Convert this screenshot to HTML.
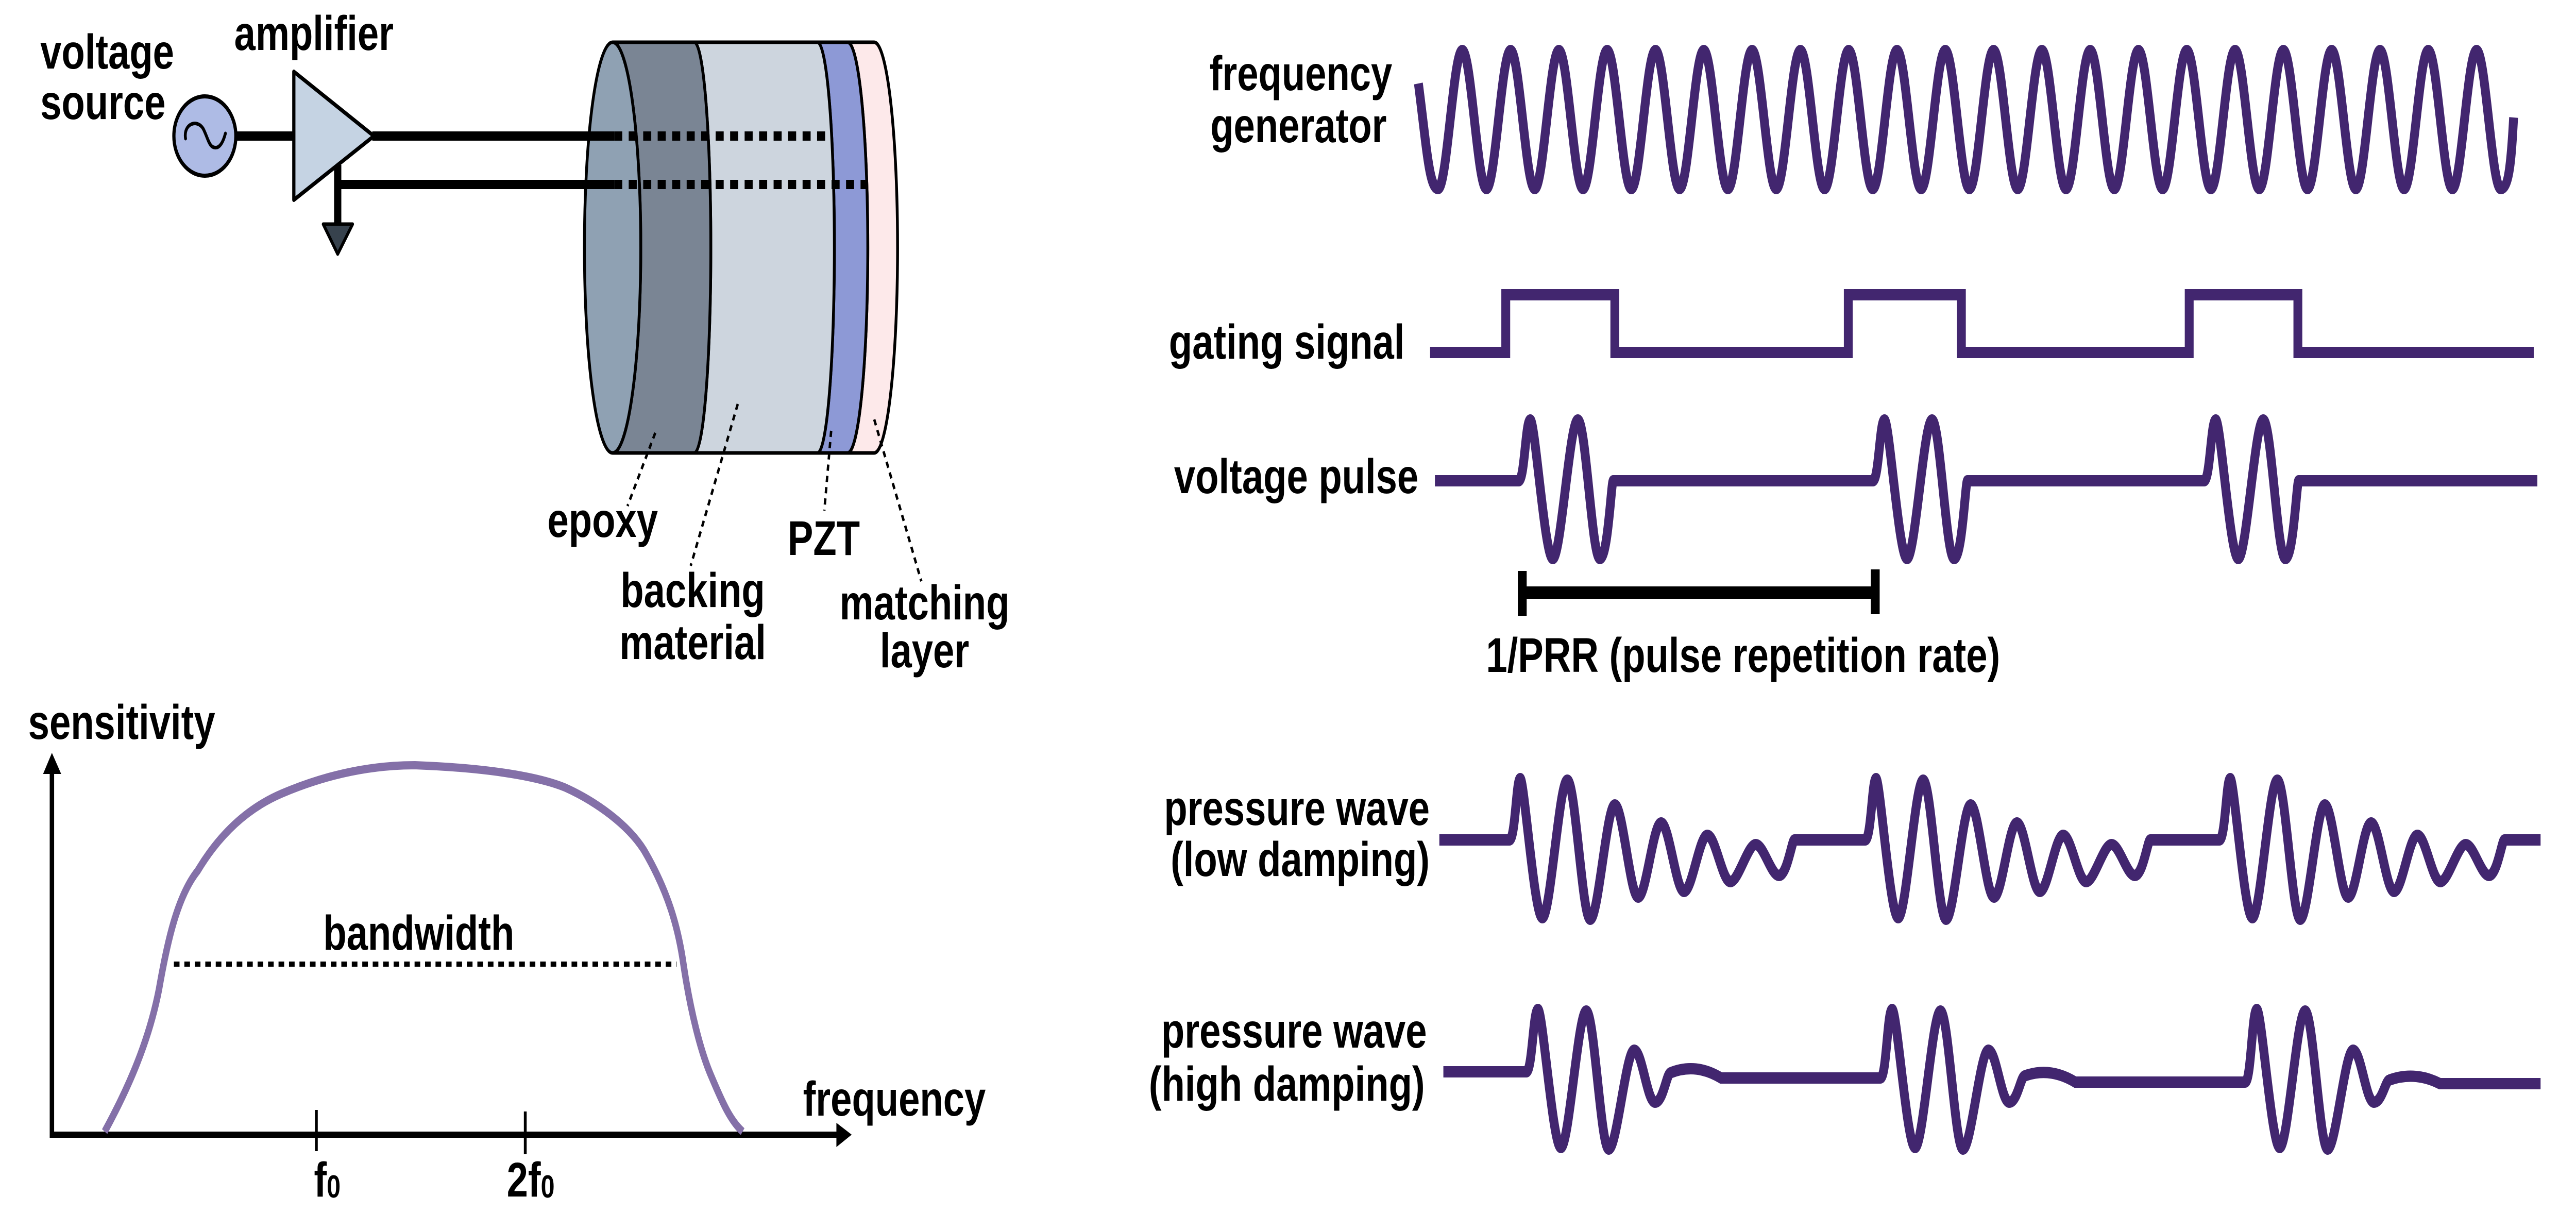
<!DOCTYPE html>
<html><head><meta charset="utf-8"><style>
html,body{margin:0;padding:0;background:#fff;overflow:hidden;width:100vw;height:100vh;}
svg{display:block;width:100vw;height:100vh;}
text{font-family:"Liberation Sans",Arial,sans-serif;font-weight:bold;font-size:95px;fill:#000;}
</style></head><body>
<svg viewBox="0 0 6400 2354" preserveAspectRatio="none" xmlns="http://www.w3.org/2000/svg">
<rect width="6400" height="2354" fill="#fff"/>

<text x="100" y="133">voltage</text>
<text x="100" y="231">source</text>
<text x="582" y="97">amplifier</text>

<path d="M2106,82 L2172,82 A58,398.5 0 0 1 2172,879 L2106,879 A50,398.5 0 0 0 2106,82 Z" fill="#fde9ea" stroke="#000" stroke-width="7"/>
<path d="M2031,82 L2106,82 A50,398.5 0 0 1 2106,879 L2031,879 A42,398.5 0 0 0 2031,82 Z" fill="#8d99d6" stroke="#000" stroke-width="7"/>
<path d="M1725,82 L2031,82 A42,398.5 0 0 1 2031,879 L1725,879 A41,398.5 0 0 0 1725,82 Z" fill="#cdd5de" stroke="#000" stroke-width="7"/>
<path d="M1522,82 L1725,82 A41,398.5 0 0 1 1725,879 L1522,879 A70,398.5 0 0 0 1522,82 Z" fill="#7a8594" stroke="#000" stroke-width="7"/>
<ellipse cx="1522" cy="480.5" rx="70" ry="398.5" fill="#8fa1b3" stroke="#000" stroke-width="7"/>

<line x1="588" y1="264" x2="735" y2="264" stroke="#000" stroke-width="18"/>
<line x1="925" y1="264" x2="1526" y2="264" stroke="#000" stroke-width="18"/>
<line x1="1526" y1="264" x2="2065" y2="264" stroke="#000" stroke-width="18" stroke-dasharray="20 16"/>
<line x1="839" y1="358" x2="1526" y2="358" stroke="#000" stroke-width="18"/>
<line x1="1526" y1="358" x2="2151" y2="358" stroke="#000" stroke-width="18" stroke-dasharray="20 16"/>
<line x1="839" y1="320" x2="839" y2="440" stroke="#000" stroke-width="18"/>
<polygon points="803,435 876,435 839,493" fill="#37424d" stroke="#000" stroke-width="7" stroke-linejoin="round"/>

<polygon points="730,139 929,264 730,388" fill="#c5d3e3" stroke="#000" stroke-width="8" stroke-linejoin="round"/>
<circle cx="509" cy="264" r="77" fill="#aebbe5" stroke="#000" stroke-width="8"/>
<path d="M461,269 C455,240 490,230 505,250 C518,270 520,290 540,286 C552,282 558,265 560,259" fill="none" stroke="#000" stroke-width="7" stroke-linecap="round"/>

<g stroke="#000" stroke-width="6" stroke-dasharray="12 10" fill="none">
<line x1="1628" y1="840" x2="1559" y2="982"/>
<line x1="1833" y1="784" x2="1716" y2="1098"/>
<line x1="2065" y1="836" x2="2048" y2="991"/>
<line x1="2172" y1="814" x2="2289" y2="1128"/>
</g>
<text x="1360" y="1042">epoxy</text>
<text x="1721" y="1178" text-anchor="middle">backing</text>
<text x="1721" y="1279" text-anchor="middle">material</text>
<text x="1957" y="1077">PZT</text>
<text x="2297" y="1202" text-anchor="middle">matching</text>
<text x="2297" y="1295" text-anchor="middle">layer</text>

<text x="70" y="1434">sensitivity</text>
<line x1="129" y1="1495" x2="129" y2="2208" stroke="#000" stroke-width="11"/>
<polygon points="129,1461 107,1502 152,1502" fill="#000"/>
<line x1="124" y1="2202" x2="2085" y2="2202" stroke="#000" stroke-width="12"/>
<polygon points="2116,2202 2078,2179 2078,2226" fill="#000"/>
<line x1="786" y1="2154" x2="786" y2="2234" stroke="#000" stroke-width="7"/>
<line x1="1305" y1="2157" x2="1305" y2="2240" stroke="#000" stroke-width="7"/>
<text x="780" y="2322">f<tspan font-size="62" dy="2">0</tspan></text>
<text x="1259" y="2322">2f<tspan font-size="62" dy="2">0</tspan></text>
<text x="1995" y="2165">frequency</text>
<path d="M260,2196 C320,2110 370,2020 395,1920 C415,1830 440,1740 491,1690 C560,1600 640,1560 700,1540 C820,1500 930,1485 1031,1485 C1200,1490 1330,1505 1403,1528 C1480,1555 1560,1600 1600,1650 C1660,1730 1685,1800 1698,1871 C1715,1960 1740,2040 1768,2090 C1795,2140 1815,2175 1845,2196" fill="none" stroke="#8470a8" stroke-width="16" stroke-linejoin="round"/>
<line x1="432" y1="1871" x2="1681" y2="1871" stroke="#000" stroke-width="10" stroke-dasharray="14 12"/>
<text x="803" y="1843">bandwidth</text>

<text x="3005" y="175">frequency</text>
<text x="3007" y="276">generator</text>
<text x="2904" y="696">gating signal</text>
<text x="2917" y="957">voltage pulse</text>
<text x="3552" y="1601" text-anchor="end">pressure wave</text>
<text x="3552" y="1700" text-anchor="end">(low damping)</text>
<text x="3545" y="2033" text-anchor="end">pressure wave</text>
<text x="3540" y="2136" text-anchor="end">(high damping)</text>
<text x="3692" y="1304">1/PRR (pulse repetition rate)</text>

<g fill="none" stroke="#42266f" stroke-width="22" stroke-linejoin="miter">
<path d="M3524,162 C3545,290 3551,366 3573,366
S3611,98 3633,98 S3671,366 3693,366 S3731,98 3753,98 S3791,366 3813,366
S3851,98 3873,98 S3911,366 3933,366 S3971,98 3993,98 S4031,366 4053,366
S4091,98 4113,98 S4151,366 4173,366 S4211,98 4233,98 S4271,366 4293,366
S4331,98 4353,98 S4391,366 4413,366 S4451,98 4473,98 S4511,366 4533,366
S4571,98 4593,98 S4631,366 4653,366 S4691,98 4713,98 S4751,366 4773,366
S4811,98 4833,98 S4871,366 4893,366 S4931,98 4953,98 S4991,366 5013,366
S5051,98 5073,98 S5111,366 5133,366 S5171,98 5193,98 S5231,366 5253,366
S5291,98 5313,98 S5351,366 5373,366 S5411,98 5433,98 S5471,366 5493,366
S5531,98 5553,98 S5591,366 5613,366 S5651,98 5673,98 S5711,366 5733,366
S5771,98 5793,98 S5831,366 5853,366 S5891,98 5913,98 S5951,366 5973,366
S6011,98 6033,98 S6071,366 6093,366 S6131,98 6153,98 S6191,366 6213,366
S6240,300 6245,228"/>

<path d="M3553,684 H3741 V572 H4012 V684 H4592 V572 H4873 V684 H5439 V572 H5709 V684 H6295"/>

<path d="M3565,933 L3773,933 C3788,933 3790,815 3802,815 S3838,1084 3858,1084 S3900,815 3920,815 S3955,1084 3975,1084 S4003,933 4008,933 L4653,933
C4668,933 4670,815 4682,815 S4718,1084 4738,1084 S4780,815 4800,815 S4835,1084 4855,1084 S4883,933 4888,933 L5476,933
C5491,933 5493,815 5505,815 S5541,1084 5561,1084 S5603,815 5623,815 S5658,1084 5678,1084 S5706,933 5711,933 L6304,933"/>

<path d="M3576,1630 L3750,1630 C3765,1630 3767,1511 3777,1511 S3812,1781 3832,1781 S3874,1514 3894,1514 S3931,1784 3951,1784 S3992,1562 4012,1562 S4050,1741 4070,1741 S4107,1597 4127,1597 S4164,1730 4184,1730 S4222,1621 4242,1621 S4279,1711 4299,1711 S4342,1639 4362,1639 S4400,1699 4420,1699 S4452,1630 4458,1630 L4634,1630
C4649,1630 4651,1511 4661,1511 S4696,1781 4716,1781 S4758,1514 4778,1514 S4815,1784 4835,1784 S4876,1562 4896,1562 S4934,1741 4954,1741 S4991,1597 5011,1597 S5048,1730 5068,1730 S5106,1621 5126,1621 S5163,1711 5183,1711 S5226,1639 5246,1639 S5284,1699 5304,1699 S5336,1630 5342,1630 L5514,1630
C5529,1630 5531,1511 5541,1511 S5576,1781 5596,1781 S5638,1514 5658,1514 S5695,1784 5715,1784 S5756,1562 5776,1562 S5814,1741 5834,1741 S5871,1597 5891,1597 S5928,1730 5948,1730 S5986,1621 6006,1621 S6043,1711 6063,1711 S6106,1639 6126,1639 S6164,1699 6184,1699 S6216,1630 6222,1630 L6312,1630"/>

<path d="M3586,2080 L3792,2080 C3807,2080 3809,1959 3821,1959 S3858,2227 3878,2227 S3921,1962 3941,1962 S3977,2230 3997,2230 S4040,2038 4060,2038 S4092,2139 4112,2139 S4140,2085 4150,2082 Q4213,2062 4276,2092 L4672,2092
C4687,2092 4689,1959 4701,1959 S4738,2227 4758,2227 S4801,1962 4821,1962 S4857,2230 4877,2230 S4920,2038 4940,2038 S4972,2139 4992,2139 S5020,2090 5030,2088 Q5093,2070 5156,2100 L5578,2100
C5593,2100 5595,1959 5607,1959 S5644,2227 5664,2227 S5707,1962 5727,1962 S5763,2230 5783,2230 S5826,2038 5846,2038 S5878,2139 5898,2139 S5926,2098 5936,2096 Q5999,2078 6062,2103 L6312,2103"/>
</g>

<line x1="3782" y1="1150" x2="4659" y2="1150" stroke="#000" stroke-width="24"/>
<line x1="3782" y1="1108" x2="3782" y2="1195" stroke="#000" stroke-width="22"/>
<line x1="4659" y1="1105" x2="4659" y2="1192" stroke="#000" stroke-width="22"/>
</svg>
</body></html>
